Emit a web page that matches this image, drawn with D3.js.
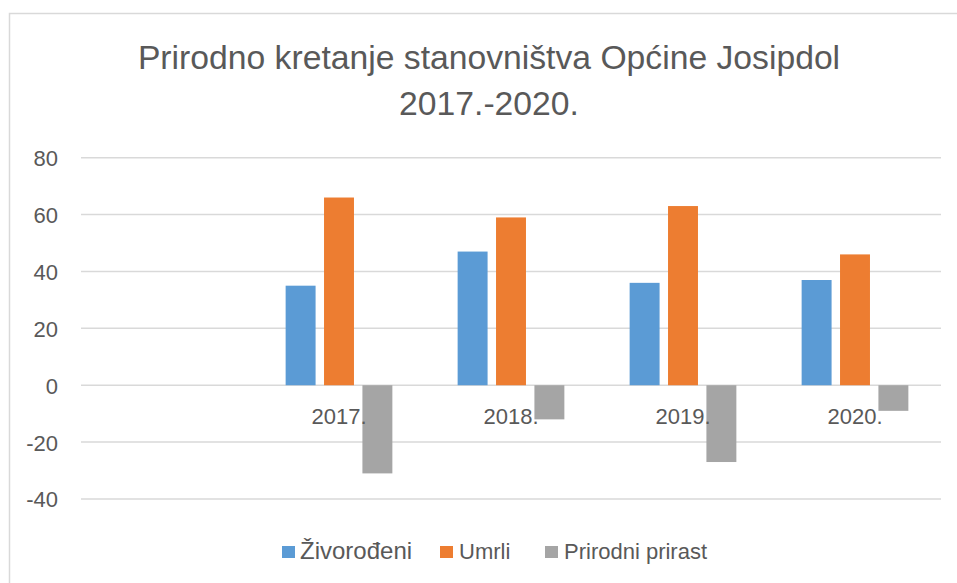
<!DOCTYPE html>
<html lang="hr">
<head>
<meta charset="UTF-8">
<title>Prirodno kretanje stanovništva</title>
<script src="https://cdn.jsdelivr.net/npm/d3@7"></script>
<style>
    html, body { margin: 0; padding: 0; background: #fff; }
    svg { display: block; font-family: "Liberation Sans", Arial, sans-serif; }
    .tick text { fill: #595959; }
</style>
</head>
<body>
<div id="chart"></div>
<script>
    // podaci
    var categories = ["", "2017.", "2018.", "2019.", "2020."];
    var seriesNames = ["Živorođeni", "Umrli", "Prirodni prirast"];
    var zivorodeni = [null, 35, 47, 36, 37];
    var umrli = [null, 66, 59, 63, 46];
    var prirast = [null, -31, -12, -27, -9];
    var yTicks = [-40, -20, 0, 20, 40, 60, 80];
    var colors = ["#5B9BD5", "#ED7D31", "#A5A5A5"];

    var WIDTH = 957, HEIGHT = 583;
    var TEXTCOLOR = "#595959", GRIDCOLOR = "#D9D9D9";

    var svg = d3.select("#chart").append("svg")
        .attr("width", WIDTH).attr("height", HEIGHT);

    // okvir grafikona
    svg.append("rect")
        .attr("x", 9.5).attr("y", 13.5)
        .attr("width", WIDTH + 20).attr("height", HEIGHT + 20)
        .attr("fill", "#fff").attr("stroke", GRIDCOLOR).attr("stroke-width", 1.5);

    // naslov
    var title = svg.append("text")
        .attr("text-anchor", "middle")
        .attr("fill", TEXTCOLOR)
        .attr("font-size", "33.7px");
    title.append("tspan").attr("x", 489).attr("y", 69).text("Prirodno kretanje stanovništva Općine Josipdol");
    title.append("tspan").attr("x", 489).attr("y", 115).text("2017.-2020.");

    // skale
    var x0 = d3.scaleBand().domain(categories).range([81, 941]).padding(0);
    var x1 = d3.scaleBand().domain(seriesNames).range([0, x0.bandwidth()])
        .paddingInner(0.22).paddingOuter(0.85);
    var y = d3.scaleLinear().domain([-40, 80]).range([499, 157.7]);

    // mreža
    svg.append("g").selectAll("line")
        .data(yTicks).enter().append("line")
        .attr("x1", 81).attr("x2", 941)
        .attr("y1", function(d) { return y(d); })
        .attr("y2", function(d) { return y(d); })
        .attr("stroke", GRIDCOLOR).attr("stroke-width", 1.5);

    // y os
    var yAxis = svg.append("g")
        .attr("transform", "translate(70,0)")
        .call(d3.axisLeft(y).tickValues(yTicks).tickSize(0).tickPadding(12)
            .tickFormat(function(d) { return String(d); }));
    yAxis.select(".domain").remove();
    yAxis.selectAll("text").attr("font-size", "22px")
        .attr("font-family", "'Liberation Sans', Arial, sans-serif")
        .attr("dy", "0.36em");

    // stupci
    var rows = categories.map(function(c, i) {
        return { cat: c, vals: [zivorodeni[i], umrli[i], prirast[i]] };
    });
    var groups = svg.append("g").selectAll("g")
        .data(rows).enter().append("g")
        .attr("transform", function(d) { return "translate(" + x0(d.cat) + ",0)"; });
    groups.selectAll("rect")
        .data(function(d) {
            return d.vals.map(function(v, k) { return { key: seriesNames[k], value: v, k: k }; })
                .filter(function(e) { return e.value != null; });
        })
        .enter().append("rect")
        .attr("x", function(d) { return x1(d.key); })
        .attr("width", x1.bandwidth())
        .attr("y", function(d) { return y(Math.max(0, d.value)); })
        .attr("height", function(d) { return Math.abs(y(d.value) - y(0)); })
        .attr("fill", function(d) { return colors[d.k]; });

    // x os (oznake ispod nule)
    var xAxis = svg.append("g")
        .attr("transform", "translate(0," + y(0) + ")")
        .call(d3.axisBottom(x0).tickSize(0).tickPadding(0));
    xAxis.select(".domain").remove();
    xAxis.selectAll("text").attr("font-size", "22px")
        .attr("font-family", "'Liberation Sans', Arial, sans-serif")
        .attr("dy", null).attr("y", 39);

    // legenda
    var legendX = [282, 440, 545];
    var legendSize = [24, 22, 22];
    var legend = svg.append("g").selectAll("g")
        .data(seriesNames).enter().append("g")
        .attr("transform", function(d, i) { return "translate(" + legendX[i] + ",0)"; });
    legend.append("rect")
        .attr("x", 0).attr("y", 546).attr("width", 13).attr("height", 12)
        .attr("fill", function(d, i) { return colors[i]; });
    legend.append("text")
        .attr("x", function(d, i) { return i === 0 ? 18 : 19; })
        .attr("y", 559)
        .attr("fill", TEXTCOLOR)
        .attr("font-size", function(d, i) { return legendSize[i] + "px"; })
        .text(function(d) { return d; });
</script>
</body>
</html>
